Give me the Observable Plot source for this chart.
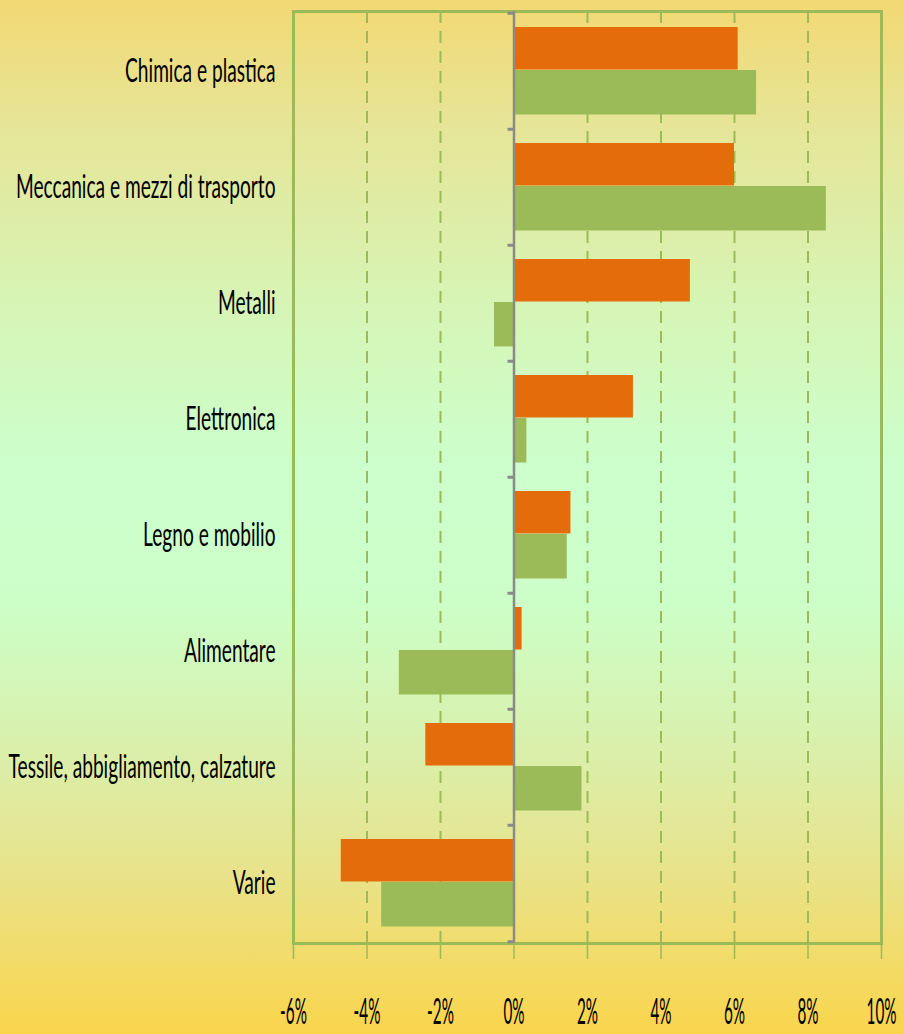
<!DOCTYPE html>
<html><head><meta charset="utf-8">
<script src="https://cdn.jsdelivr.net/npm/d3@7"></script>
<script src="https://cdn.jsdelivr.net/npm/@observablehq/plot@0.6"></script>
<style>
html,body{margin:0;padding:0;}
body{width:904px;height:1034px;overflow:hidden;
background:linear-gradient(to bottom,#f3d873 0%,#e6e597 12%,#d6f5b6 30%,#ccffcc 45%,#ccffc8 58%,#d9f0ac 72%,#e8e38c 84%,#fad54c 100%);}
#chart svg{display:block;}
</style></head><body><div id="chart"></div><script>
const categories = ["Chimica e plastica","Meccanica e mezzi di trasporto","Metalli","Elettronica","Legno e mobilio","Alimentare","Tessile, abbigliamento, calzature","Varie"];
const serieOrange = [6.1, 6.0, 4.8, 3.25, 1.55, 0.22, -2.4, -4.7];
const serieGreen = [6.6, 8.5, -0.53, 0.35, 1.45, -3.12, 1.85, -3.6];
const xTicks = [-6,-4,-2,0,2,4,6,8,10];
const gridTicks = [-4,-2,2,4,6,8];

const orangeData = categories.map((c,i)=>({cat:c, v:serieOrange[i]}));
const greenData = categories.map((c,i)=>({cat:c, v:serieGreen[i]}));
const half = 116.5/2;

const chart = Plot.plot({
  width:904, height:1034,
  marginLeft:293, marginRight:23, marginTop:11, marginBottom:91,
  style:{background:"transparent", fontFamily:"Lato, 'Open Sans', sans-serif", color:"black", overflow:"visible"},
  x:{domain:[-6,10]},
  y:{domain:categories, padding:0},
  marks:[
    Plot.ruleX(gridTicks,{stroke:"#9bbb59", strokeWidth:2, strokeDasharray:"12,8"}),
    Plot.barX(orangeData,{x:"v", y:"cat", fill:"#e46c0a", insetTop:14, insetBottom:59.5}),
    Plot.barX(greenData,{x:"v", y:"cat", fill:"#9bbb59", insetTop:57, insetBottom:14.5}),
    Plot.frame({stroke:"#9bbb59", strokeWidth:3}),
    Plot.ruleX([0],{stroke:"#8a8a8a", strokeWidth:2.5}),
    Plot.ruleY(categories,{y:d=>d, x1:0, x2:0, dy:-half, insetLeft:-6, stroke:"#8a8a8a", strokeWidth:3}),
    Plot.ruleY(categories.slice(-1),{y:d=>d, x1:0, x2:0, dy:half, insetLeft:-6, stroke:"#8a8a8a", strokeWidth:3}),
    Plot.axisX({ticks:xTicks, tickFormat:d=>d+"%", tickSize:16, tickPadding:38, stroke:"#9bbb59", strokeWidth:1.5, fill:"black", fontSize:37, label:null}),
    Plot.axisY({tickSize:0, tickPadding:18, fill:"black", fontSize:33, label:null})
  ]
});
document.getElementById("chart").append(chart);

function squeeze(texts, refText, targetW, anchor){
  const gs = [];
  for (const t of texts){
    const g = document.createElementNS("http://www.w3.org/2000/svg","g");
    t.parentNode.insertBefore(g,t); g.appendChild(t); gs.push(g);
  }
  let s = 1;
  const ref = gs.find(g=>g.textContent===refText);
  if (ref){ s = targetW/ref.getBBox().width; }
  for (const g of gs){
    const b = g.getBBox();
    const ax = anchor==="end" ? b.x+b.width : b.x+b.width/2;
    g.setAttribute("transform",`translate(${ax},0) scale(${s},1) translate(${-ax},0)`);
  }
}
const yTexts = [...chart.querySelectorAll('[aria-label="y-axis tick label"] text')];
const xTexts = [...chart.querySelectorAll('[aria-label="x-axis tick label"] text')];
squeeze(yTexts, "Tessile, abbigliamento, calzature", 267, "end");
squeeze(xTexts, "10%", 30, "middle");
</script></body></html>
